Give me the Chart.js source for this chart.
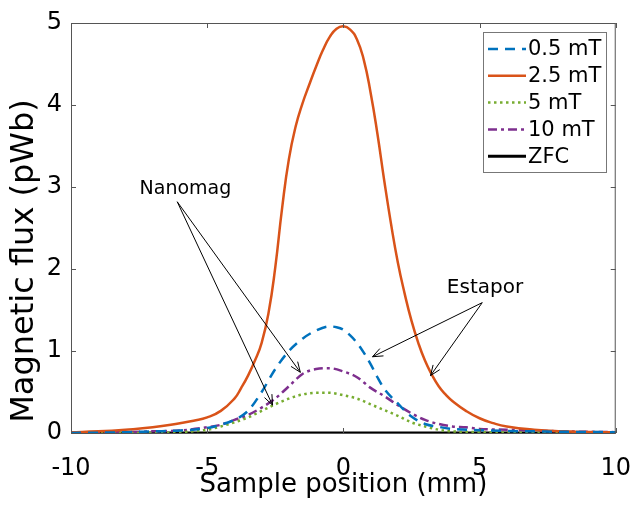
<!DOCTYPE html>
<html>
<head>
<meta charset="utf-8">
<script src="https://cdn.jsdelivr.net/npm/chart.js@4.4.1/dist/chart.umd.min.js"></script>
<style>
  html, body { margin: 0; padding: 0; background: #fff; }
  #wrap { width: 641px; height: 509px; }
</style>
</head>
<body>
<div id="wrap"><canvas id="root" width="641" height="509"></canvas></div>
<script>
// series values (x in mm, y in pWb)
const xTicks = [-10, -5, 0, 5, 10]
const yTicks = [0, 1, 2, 3, 4, 5]

const pos05 = [-10, -8, -7, -6, -5, -4.5, -4, -3.5, -3, -2.5, -2, -1.5, -1, -0.5, -0.25, 0, 0.25, 0.5, 0.75, 1, 1.25, 1.5, 2, 2.5, 3, 3.5, 4, 5, 6, 7, 8, 10]
const flux05 = [0.0, 0.01, 0.02, 0.03, 0.06, 0.10, 0.16, 0.27, 0.50, 0.78, 1.00, 1.15, 1.25, 1.30, 1.29, 1.26, 1.19, 1.10, 0.98, 0.84, 0.68, 0.54, 0.36, 0.20, 0.11, 0.075, 0.05, 0.035, 0.025, 0.02, 0.015, 0.01]

const pos25 = [-10, -9, -8, -7, -6, -5.5, -5, -4.5, -4, -3.75, -3.5, -3.25, -3, -2.75, -2.5, -2.25, -2, -1.75, -1.5, -1.25, -1, -0.75, -0.5, -0.25, 0, 0.25, 0.5, 0.75, 1, 1.25, 1.5, 1.75, 2, 2.25, 2.5, 2.75, 3, 3.25, 3.5, 3.75, 4, 4.5, 5, 5.5, 6, 7, 8, 9, 10]
const flux25 = [0.01, 0.02, 0.04, 0.07, 0.12, 0.15, 0.19, 0.27, 0.42, 0.55, 0.70, 0.88, 1.10, 1.46, 2.02, 2.74, 3.34, 3.74, 4.02, 4.25, 4.47, 4.67, 4.83, 4.93, 4.96, 4.92, 4.80, 4.55, 4.15, 3.65, 3.08, 2.55, 2.08, 1.70, 1.37, 1.10, 0.88, 0.71, 0.57, 0.47, 0.39, 0.27, 0.18, 0.12, 0.08, 0.04, 0.02, 0.012, 0.008]

const pos5 = [-10, -7, -6, -5, -4.5, -4, -3.5, -3, -2.5, -2, -1.5, -1, -0.5, 0, 0.5, 1, 1.5, 2, 2.5, 3, 3.5, 4, 5, 6, 8, 10]
const flux5 = [0.0, 0.0, 0.01, 0.04, 0.08, 0.13, 0.19, 0.27, 0.35, 0.42, 0.47, 0.49, 0.49, 0.46, 0.42, 0.35, 0.28, 0.21, 0.13, 0.08, 0.04, 0.02, 0.01, 0.005, 0.0, 0.0]

const pos10 = [-10, -8, -7, -6, -5, -4.5, -4, -3.5, -3, -2.5, -2, -1.5, -1, -0.5, 0, 0.5, 1, 1.5, 2, 2.5, 3, 3.5, 4, 4.5, 5, 6, 7, 8, 10]
const flux10 = [0.0, 0.01, 0.02, 0.03, 0.07, 0.10, 0.16, 0.22, 0.31, 0.42, 0.57, 0.72, 0.78, 0.79, 0.75, 0.68, 0.55, 0.45, 0.34, 0.24, 0.16, 0.11, 0.08, 0.07, 0.05, 0.04, 0.03, 0.02, 0.01]

const posZfc = [-10, -5, 0, 5, 10]
const fluxZfc = [0, 0, 0, 0, 0]

const seriesNames = ['0.5 mT', '2.5 mT', '5 mT', '10 mT', 'ZFC']
const yTitle = 'Magnetic flux (pWb)'

// annotation arrows in data coordinates: [fromX, fromY, toX, toY]
const nanomagLabel = { text: 'Nanomag', x: -5.8, y: 2.98 }
const nanomagArrows = [[-6.1, 2.82, -1.58, 0.74], [-6.1, 2.82, -2.6, 0.34]]
const estaporLabel = { text: 'Estapor', x: 5.2, y: 1.77 }
const estaporArrows = [[5.1, 1.59, 1.07, 0.93], [5.1, 1.59, 3.2, 0.70]]

function pts(xs, ys) {
    return xs.map((x, i) => ({ x: x, y: ys[i] }))
}

const FONT = "'DejaVu Sans', sans-serif"

// box, inward ticks, legend, y title and arrows (MATLAB look)
const decorations = {
    id: 'decorations',
    afterDatasetsDraw(chart) {
        const ctx = chart.ctx
        const a = chart.chartArea
        const xs = chart.scales.x
        const ys = chart.scales.y
        ctx.save()

        // frame
        ctx.strokeStyle = '#555'
        ctx.lineWidth = 1
        ctx.strokeRect(a.left + 0.5, a.top + 0.5, a.right - a.left - 1, a.bottom - a.top)

        // inward ticks
        ctx.beginPath()
        xTicks.forEach(v => {
            const px = Math.round(xs.getPixelForValue(v)) + 0.5
            ctx.moveTo(px, a.bottom); ctx.lineTo(px, a.bottom - 5)
            ctx.moveTo(px, a.top); ctx.lineTo(px, a.top + 5)
        })
        yTicks.forEach(v => {
            const py = Math.round(ys.getPixelForValue(v)) + 0.5
            ctx.moveTo(a.left, py); ctx.lineTo(a.left + 5, py)
            ctx.moveTo(a.right, py); ctx.lineTo(a.right - 5, py)
        })
        ctx.stroke()

        // y axis title (sits a bit low in the original)
        ctx.save()
        ctx.translate(25, 261)
        ctx.rotate(-Math.PI / 2)
        ctx.fillStyle = '#000'
        ctx.font = '32px ' + FONT
        ctx.textAlign = 'center'
        ctx.textBaseline = 'middle'
        ctx.fillText(yTitle, 0, 0)
        ctx.restore()

        // annotations
        ctx.fillStyle = '#000'
        ctx.strokeStyle = '#000'
        ctx.lineWidth = 1
        ctx.textAlign = 'center'
        ctx.textBaseline = 'middle'
        ctx.font = '19px ' + FONT
        ctx.fillText(nanomagLabel.text, xs.getPixelForValue(nanomagLabel.x), ys.getPixelForValue(nanomagLabel.y))
        ctx.font = '20px ' + FONT
        ctx.fillText(estaporLabel.text, xs.getPixelForValue(estaporLabel.x), ys.getPixelForValue(estaporLabel.y))

        nanomagArrows.concat(estaporArrows).forEach(ar => {
            const x0 = xs.getPixelForValue(ar[0]), y0 = ys.getPixelForValue(ar[1])
            const x1 = xs.getPixelForValue(ar[2]), y1 = ys.getPixelForValue(ar[3])
            const ang = Math.atan2(y1 - y0, x1 - x0)
            ctx.beginPath()
            ctx.moveTo(x0, y0); ctx.lineTo(x1, y1)
            ctx.moveTo(x1 - 11 * Math.cos(ang - 0.38), y1 - 11 * Math.sin(ang - 0.38))
            ctx.lineTo(x1, y1)
            ctx.lineTo(x1 - 11 * Math.cos(ang + 0.38), y1 - 11 * Math.sin(ang + 0.38))
            ctx.stroke()
        })

        // legend box
        const lx = 483, ly = 32, lw = 123, lh = 140
        ctx.fillStyle = '#fff'
        ctx.fillRect(lx, ly, lw, lh)
        ctx.strokeStyle = '#777'
        ctx.strokeRect(lx + 0.5, ly + 0.5, lw, lh)
        ctx.font = '21px ' + FONT
        ctx.textAlign = 'left'
        chart.data.datasets.forEach((ds, i) => {
            const cy = ly + 17 + i * 26.8
            ctx.strokeStyle = ds.borderColor
            ctx.lineWidth = ds.borderWidth
            ctx.setLineDash(ds.borderDash || [])
            ctx.beginPath()
            ctx.moveTo(lx + 5, cy); ctx.lineTo(lx + 43, cy)
            ctx.stroke()
            ctx.setLineDash([])
            ctx.fillStyle = '#000'
            ctx.fillText(ds.label, lx + 45, cy + 1)
        })
        ctx.restore()
    }
}

let ctx = document.getElementById('root').getContext('2d')

let config = {
    type: 'line',
    data: {
        datasets: [
            {
                label: seriesNames[0],
                data: pts(pos05, flux05),
                borderColor: '#0072BD',
                borderWidth: 2.5,
                borderDash: [10, 7]
            },
            {
                label: seriesNames[1],
                data: pts(pos25, flux25),
                borderColor: '#D95319',
                borderWidth: 2.5,
                cubicInterpolationMode: 'default',
                tension: 0.5
            },
            {
                label: seriesNames[2],
                data: pts(pos5, flux5),
                borderColor: '#77AC30',
                borderWidth: 2.5,
                borderDash: [2.5, 3.5]
            },
            {
                label: seriesNames[3],
                data: pts(pos10, flux10),
                borderColor: '#7E2F8E',
                borderWidth: 2.5,
                borderDash: [9, 4, 3, 4]
            },
            {
                label: seriesNames[4],
                data: pts(posZfc, fluxZfc),
                borderColor: '#000000',
                borderWidth: 3
            }
        ]
    },
    options: {
        responsive: false,
        animation: false,
        layout: { padding: { top: 23, right: 25, left: 0, bottom: 0 } },
        elements: {
            point: { radius: 0 },
            line: { tension: 0.4, cubicInterpolationMode: 'monotone', fill: false }
        },
        plugins: {
            legend: { display: false },
            tooltip: { enabled: false }
        },
        scales: {
            x: {
                type: 'linear',
                min: -10,
                max: 10,
                afterBuildTicks: s => { s.ticks = xTicks.map(v => ({ value: v })) },
                afterFit: s => { s.height = 76 },
                grid: { display: false, tickLength: 11 },
                border: { display: false },
                ticks: {
                    color: '#000',
                    padding: 10,
                    font: { family: FONT, size: 24 }
                },
                title: {
                    display: true,
                    text: 'Sample position (mm)',
                    color: '#000',
                    padding: { top: 0, bottom: 8 },
                    font: { family: FONT, size: 26 }
                }
            },
            y: {
                type: 'linear',
                min: 0,
                max: 5,
                afterBuildTicks: s => { s.ticks = yTicks.map(v => ({ value: v })) },
                afterFit: s => { s.width = 71 },
                grid: { display: false, tickLength: 5 },
                border: { display: false },
                ticks: {
                    color: '#000',
                    padding: 4,
                    font: { family: FONT, size: 24 }
                },
                title: { display: false }
            }
        }
    },
    plugins: [decorations]
}

let myChart = new Chart(ctx, config)
</script>
</body>
</html>
